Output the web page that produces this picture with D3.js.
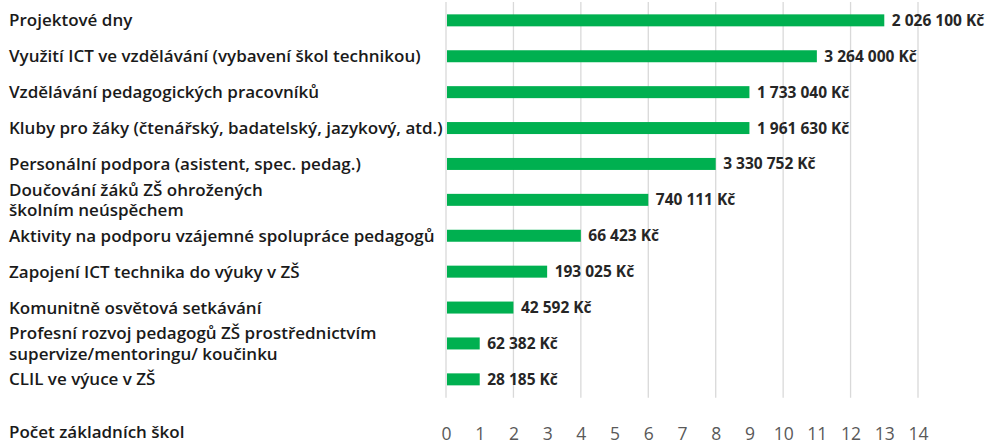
<!DOCTYPE html>
<html>
<head>
<meta charset="utf-8">
<script src="https://cdn.jsdelivr.net/npm/d3@7/dist/d3.min.js"></script>
<style>
  body { margin: 0; background: #fff; }
  text { font-family: 'Open Sans', sans-serif; }
</style>
</head>
<body>
<svg id="chart" width="986" height="444"></svg>
<script>
const categories = [
  'Projektové dny',
  'Využití ICT ve vzdělávání (vybavení škol technikou)',
  'Vzdělávání pedagogických pracovníků',
  'Kluby pro žáky (čtenářský, badatelský, jazykový, atd.)',
  'Personální podpora (asistent, spec. pedag.)',
  'Doučování žáků ZŠ ohrožených\nškolním neúspěchem',
  'Aktivity na podporu vzájemné spolupráce pedagogů',
  'Zapojení ICT technika do výuky v ZŠ',
  'Komunitně osvětová setkávání',
  'Profesní rozvoj pedagogů ZŠ prostřednictvím\nsupervize/mentoringu/ koučinku',
  'CLIL ve výuce v ZŠ'
]
const schoolCounts = [13, 11, 9, 9, 8, 6, 4, 3, 2, 1, 1]
const amounts = [
  '2 026 100 Kč', '3 264 000 Kč', '1 733 040 Kč', '1 961 630 Kč', '3 330 752 Kč',
  '740 111 Kč', '66 423 Kč', '193 025 Kč', '42 592 Kč', '62 382 Kč', '28 185 Kč'
]
const xTicks = d3.range(0, 15)
const gridTicks = d3.range(0, 15, 2)
const axisTitle = 'Počet základních škol'

const svg = d3.select('#chart')
const plotTop = 2
const plotBottom = 397.7

const x = d3.scaleLinear().domain([0, 14]).range([446, 918])
const y = d3.scaleBand()
  .domain(categories)
  .range([plotTop, plotBottom])
  .paddingInner(0.666)
  .paddingOuter(0.344)

// vertical gridlines
svg.append('g')
  .selectAll('line')
  .data(gridTicks)
  .join('line')
  .attr('x1', d => x(d))
  .attr('x2', d => x(d))
  .attr('y1', plotTop)
  .attr('y2', plotBottom)
  .attr('stroke', '#d9d9d9')
  .attr('stroke-width', 1.3)

const rows = categories.map((c, i) => ({ category: c, count: schoolCounts[i], amount: amounts[i] }))

// bars
svg.append('g')
  .selectAll('rect')
  .data(rows)
  .join('rect')
  .attr('x', x(0) + 1)
  .attr('y', d => y(d.category))
  .attr('width', d => x(d.count) - x(0) - 1)
  .attr('height', y.bandwidth())
  .attr('fill', '#00b050')

// amount labels
svg.append('g')
  .selectAll('text')
  .data(rows)
  .join('text')
  .attr('x', d => x(d.count) + 7.5)
  .attr('y', d => y(d.category) + y.bandwidth() / 2 + 5.5)
  .attr('font-size', 15.5)
  .attr('font-weight', 700)
  .attr('fill', '#262626')
  .text(d => d.amount)

// category labels, multi-line ones centred on the bar
const catLabels = svg.append('g')
  .selectAll('text')
  .data(rows)
  .join('text')
  .attr('x', 9)
  .attr('font-size', 17)
  .attr('font-weight', 600)
  .attr('fill', '#1a1a1a')

catLabels.each(function (d) {
  const lines = d.category.split('\n')
  const mid = y(d.category) + y.bandwidth() / 2
  const lineHeight = 20.5
  const first = mid + 6 - (lines.length - 1) * lineHeight / 2
  d3.select(this).selectAll('tspan')
    .data(lines)
    .join('tspan')
    .attr('x', 9)
    .attr('y', (l, i) => first + i * lineHeight)
    .text(l => l)
})

// bottom axis (number of schools)
const xAxis = d3.axisBottom(x).tickValues(xTicks).tickSize(0).tickPadding(0)
const axisG = svg.append('g')
  .attr('transform', 'translate(0, 439.5)')
  .call(xAxis)
axisG.select('.domain').remove()
axisG.selectAll('text')
  .attr('dy', 0)
  .attr('y', 0)
  .attr('font-size', 17.5)
  .attr('font-family', "'Open Sans', sans-serif")
  .attr('fill', '#595959')

svg.append('text')
  .attr('x', 9)
  .attr('y', 437.5)
  .attr('font-size', 17)
  .attr('font-weight', 600)
  .attr('fill', '#1a1a1a')
  .text(axisTitle)
</script>
</body>
</html>
